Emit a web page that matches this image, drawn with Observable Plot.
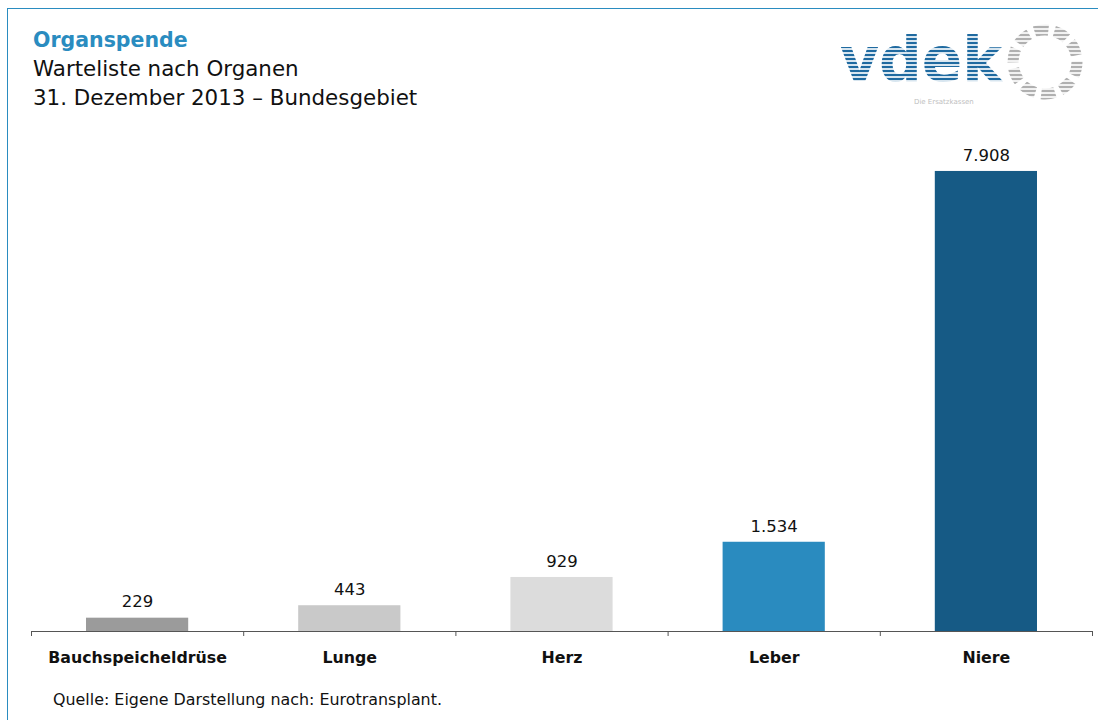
<!DOCTYPE html>
<html>
<head>
<meta charset="utf-8">
<script src="https://cdn.jsdelivr.net/npm/d3@7"></script>
<script src="https://cdn.jsdelivr.net/npm/@observablehq/plot@0.6"></script>
<style>
  html, body { margin: 0; padding: 0; background: #fff; width: 1098px; height: 720px; overflow: hidden; }
  body { position: relative; font-family: "DejaVu Sans", sans-serif; }
  #frame { position: absolute; left: 7px; top: 8px; width: 1200px; height: 800px; border-left: 1px solid #2a8cc0; border-top: 1px solid #2a8cc0; }
  #title { position: absolute; left: 33px; top: 26px; font-size: 20.5px; font-weight: bold; color: #2a8cc0; line-height: 28px; }
  .sub { position: absolute; left: 33px; font-size: 21.4px; color: #111; line-height: 28px; }
  #chart { position: absolute; left: 0; top: 120px; }
  #caption { position: absolute; left: 53px; top: 690px; font-size: 15.9px; color: #111; line-height: 20px; }
  #logo { position: absolute; left: 830px; top: 18px; }
</style>
</head>
<body>
<div id="frame"></div>
<div id="title">Organspende</div>
<div class="sub" style="top:55px">Warteliste nach Organen</div>
<div class="sub" style="top:84px">31. Dezember 2013 – Bundesgebiet</div>
<svg id="logo" width="268" height="92" viewBox="0 0 268 92">
  <defs>
    <pattern id="stripesB" width="4" height="4" patternUnits="userSpaceOnUse">
      <rect width="4" height="2.2" fill="#1f6aa0"/>
      <rect y="2.2" width="4" height="1.8" fill="#d8e6f0"/>
    </pattern>
    <pattern id="stripesG" width="4" height="4" patternUnits="userSpaceOnUse">
      <rect width="4" height="2.2" fill="#b0b0b0"/>
      <rect y="2.2" width="4" height="1.8" fill="#f2f2f2"/>
    </pattern>
  </defs>
  <text x="10" y="63" font-family="DejaVu Sans" font-weight="bold" font-size="62" fill="url(#stripesB)" textLength="162" lengthAdjust="spacingAndGlyphs">vdek</text>
  <circle cx="215" cy="44" r="32" fill="none" stroke="url(#stripesG)" stroke-width="11" stroke-dasharray="14 6"/>
  <text x="84" y="86" font-family="DejaVu Sans" font-size="7" fill="#c0c0c0">Die Ersatzkassen</text>
</svg>
<div id="chart"></div>
<div id="caption">Quelle: Eigene Darstellung nach: Eurotransplant.</div>
<script>
const categories = ["Bauchspeicheldrüse", "Lunge", "Herz", "Leber", "Niere"];
const values = [229, 443, 929, 1534, 7908];
const palette = ["#9b9b9b", "#c9c9c9", "#dcdcdc", "#2a8bbf", "#165a85"];
const tickPositions = [0, 1, 2, 3, 4, 5];

const data = categories.map((c, i) => ({ organ: c, index: i, value: values[i] }));
const fmt = new Intl.NumberFormat("de-DE");

const chart = Plot.plot({
  width: 1098,
  height: 560,
  marginLeft: 31,
  marginRight: 6,
  marginTop: 45.6,
  marginBottom: 49,
  style: { fontFamily: "DejaVu Sans, sans-serif", background: "transparent" },
  x: { type: "linear", domain: [0, 5], axis: null },
  y: { domain: [0, 8000], axis: null },
  color: { type: "ordinal", domain: categories, range: palette },
  marks: [
    Plot.rectY(data, { x1: "index", x2: d => d.index + 1, y: "value", fill: "organ", insetLeft: 55, insetRight: 55 }),
    Plot.ruleY([0], { stroke: "#555", strokeWidth: 1 }),
    Plot.axisX({ ticks: tickPositions, tickSize: 5, tickFormat: () => "", stroke: "#555", strokeOpacity: 1, label: null }),
    Plot.text(data, { x: d => d.index + 0.5, y: "value", text: d => fmt.format(d.value), dy: -16, fontSize: 16.5, fill: "#111" }),
    Plot.text(data, { x: d => d.index + 0.5, y: 0, text: "organ", dy: 26, fontSize: 15.8, fontWeight: "bold", fill: "#111" })
  ]
});
document.getElementById("chart").appendChild(chart);
</script>
</body>
</html>
